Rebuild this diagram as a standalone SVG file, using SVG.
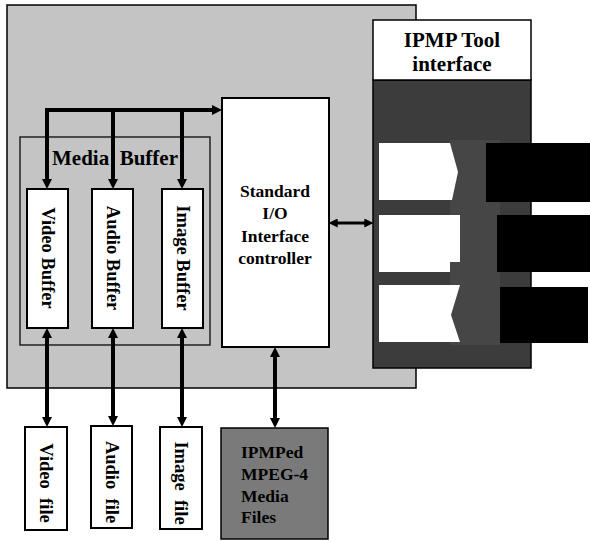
<svg xmlns="http://www.w3.org/2000/svg" width="590" height="541" viewBox="0 0 590 541">
<style>
.lbl{font-family:"Liberation Serif","Times New Roman",serif;font-weight:bold;font-size:17.5px;fill:#000}
.big{font-size:21px}
.vt{font-size:18.5px}
.box{fill:#fff;stroke:#000;stroke-width:2}
.bus{fill:none;stroke:#000;stroke-width:4}
.bus2{fill:none;stroke:#000;stroke-width:3}
</style>
<defs>
<marker id="ah" viewBox="0 0 10 10" refX="3" refY="5" markerUnits="userSpaceOnUse" markerWidth="10" markerHeight="11" orient="auto-start-reverse">
<path d="M0,0 L10,5 L0,10 z" fill="#000"/>
</marker>
<marker id="ahs" viewBox="0 0 10 10" refX="3" refY="5" markerUnits="userSpaceOnUse" markerWidth="9" markerHeight="9" orient="auto-start-reverse">
<path d="M0,0 L10,5 L0,10 z" fill="#000"/>
</marker>
</defs>
<rect width="590" height="541" fill="#fff"/>

<g id="system">
<rect x="7" y="5" width="409" height="383" fill="#c4c4c4" stroke="#000" stroke-width="1.5"/>
</g>

<g id="media-buffer">
<rect x="20" y="137" width="190" height="208" fill="none" stroke="#222" stroke-width="1.5"/>
<text class="lbl big" x="115" y="165" text-anchor="middle" xml:space="preserve">Media  Buffer</text>
</g>

<g id="video-buffer">
<rect class="box" x="27" y="189" width="41" height="139"/>
<text class="lbl vt" transform="translate(47.5,258) rotate(90)" text-anchor="middle" dominant-baseline="central">Video Buffer</text>
</g>
<g id="audio-buffer">
<rect class="box" x="92" y="189" width="41" height="139"/>
<text class="lbl vt" transform="translate(112.5,258) rotate(90)" text-anchor="middle" dominant-baseline="central">Audio Buffer</text>
</g>
<g id="image-buffer">
<rect class="box" x="162" y="189" width="41" height="139"/>
<text class="lbl vt" transform="translate(182.5,258) rotate(90)" text-anchor="middle" dominant-baseline="central">Image Buffer</text>
</g>

<g id="io-controller">
<rect class="box" x="222" y="98" width="107" height="249"/>
<text class="lbl" x="275" y="197" text-anchor="middle">Standard</text>
<text class="lbl" x="275" y="219" text-anchor="middle">I/O</text>
<text class="lbl" x="275" y="242" text-anchor="middle">Interface</text>
<text class="lbl" x="275" y="264" text-anchor="middle">controller</text>
</g>

<g id="ipmp-tool-interface">
<rect x="373" y="80" width="158" height="288" fill="#3c3c3c" stroke="#000" stroke-width="1.5"/>
<rect x="450" y="140" width="50" height="205" fill="#464646"/>
<rect x="373" y="20" width="158" height="60" fill="#fff" stroke="#000" stroke-width="1.5"/>
<text class="lbl big" x="452" y="47" text-anchor="middle">IPMP Tool</text>
<text class="lbl big" x="452" y="71" text-anchor="middle">interface</text>
<polygon points="379,143 450,143 458,172 452,200 379,200" fill="#fff"/>
<rect x="486" y="143" width="104" height="59" fill="#000"/>
<polygon points="379,215 460,215 460,262 450,262 450,272 379,272" fill="#fff"/>
<rect x="497" y="215" width="93" height="57" fill="#000"/>
<polygon points="379,285 460,285 451,315 460,342 379,342" fill="#fff"/>
<rect x="500" y="287" width="88" height="56" fill="#000"/>
</g>

<g id="video-file">
<rect class="box" x="25" y="427" width="42" height="103"/>
<text class="lbl vt" transform="translate(46,483) rotate(90)" text-anchor="middle" dominant-baseline="central" xml:space="preserve">Video  file</text>
</g>
<g id="audio-file">
<rect class="box" x="91" y="426" width="41" height="102"/>
<text class="lbl vt" transform="translate(111.5,482) rotate(90)" text-anchor="middle" dominant-baseline="central" xml:space="preserve">Audio  file</text>
</g>
<g id="image-file">
<rect class="box" x="160" y="427" width="42" height="102"/>
<text class="lbl vt" transform="translate(181,483) rotate(90)" text-anchor="middle" dominant-baseline="central" xml:space="preserve">Image  file</text>
</g>
<g id="ipmped-files">
<rect x="221" y="428" width="107" height="111" fill="#7a7a7a" stroke="#000" stroke-width="1.5"/>
<text class="lbl" x="241" y="458">IPMPed</text>
<text class="lbl" x="241" y="480">MPEG-4</text>
<text class="lbl" x="241" y="502">Media</text>
<text class="lbl" x="241" y="523">Files</text>
</g>

<g id="connectors">
<path class="bus" d="M47,110 H215" marker-end="url(#ah)"/>
<path class="bus" d="M47,108 V182" marker-end="url(#ah)"/>
<path class="bus" d="M113,110 V182" marker-end="url(#ah)"/>
<path class="bus" d="M182,110 V182" marker-end="url(#ah)"/>
<path class="bus" d="M47,335 V420" marker-start="url(#ah)" marker-end="url(#ah)"/>
<path class="bus" d="M113,335 V419" marker-start="url(#ah)" marker-end="url(#ah)"/>
<path class="bus" d="M182,335 V420" marker-start="url(#ah)" marker-end="url(#ah)"/>
<path class="bus" d="M275,354 V421" marker-start="url(#ah)" marker-end="url(#ah)"/>
<path class="bus2" d="M335,223 H367" marker-start="url(#ahs)" marker-end="url(#ahs)"/>
</g>
</svg>
